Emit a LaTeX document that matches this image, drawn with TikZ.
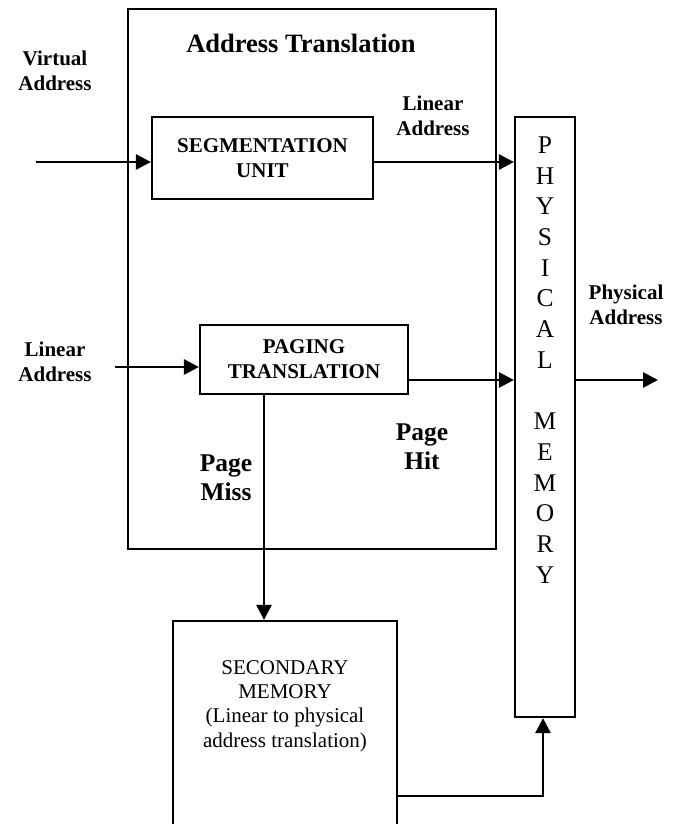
\documentclass[tikz,border=0pt]{standalone}
\usepackage{fontspec}
\setmainfont{Liberation Serif}
\usetikzlibrary{arrows.meta}
\begin{document}
\begin{tikzpicture}[x=1pt,y=-1pt,
  box/.style={draw,line width=2.2pt,inner sep=0pt},
  arr/.style={line width=2.8pt,-{Triangle[length=15pt,width=15pt]}},
  lab/.style={font=\bfseries\fontsize{21}{25.5}\selectfont,align=center,inner sep=0pt},
  boxtxt/.style={font=\bfseries\fontsize{21}{25}\selectfont,align=center,inner sep=0pt},
  big/.style={font=\bfseries\fontsize{25.5}{29}\selectfont,align=center,inner sep=0pt},
  plain/.style={font=\fontsize{21}{24.3}\selectfont,align=center,inner sep=0pt},
  vert/.style={font=\fontsize{25.5}{30.7}\selectfont,align=center,inner sep=0pt}]
\fill[white] (0,0) rectangle (678,824);
\clip (0,0) rectangle (678,824);
% boxes
\node[box,minimum width=368pt,minimum height=540pt] (outer) at (312,279) {};
\node[big,font=\bfseries\fontsize{26.5}{30}\selectfont] (title) at (301,43) {Address Translation};
\node[box,boxtxt,minimum width=221pt,minimum height=82pt] (seg) at (262.5,158) {SEGMENTATION\\UNIT};
\node[box,boxtxt,minimum width=208pt,minimum height=69pt] (pag) at (304,359.5) {PAGING\\TRANSLATION};
\node[box,minimum width=60pt,minimum height=600pt] (phys) at (545,417) {};
\node[vert] (physt) at (545,360) {P\\H\\Y\\S\\I\\C\\A\\L\\\mbox{}\\M\\E\\M\\O\\R\\Y};
\node[box,minimum width=224pt,minimum height=240pt] (sec) at (285,741) {};
\node[plain] (sect) at (285,706) {SECONDARY\\MEMORY\\(Linear to physical\\address translation)};
% labels
\node[lab] (va) at (55,71) {Virtual\\Address};
\node[lab] (la1) at (433,116) {Linear\\Address};
\node[lab] (la2) at (55,362) {Linear\\Address};
\node[lab] (pa) at (626,305) {Physical\\Address};
\node[big] (miss) at (226,478) {Page\\Miss};
\node[big] (hit) at (422,447) {Page\\Hit};
% coordinates
\coordinate (vin) at (36,162);
\coordinate (lin) at (115,367);
\coordinate (ph) at (0,380);
\coordinate (pout) at (658,380);
\coordinate (mx) at (264,0);
\coordinate (by) at (543,796);
% connectors
\draw[arr] (vin) -- (vin -| seg.west);
\draw[arr] (vin -| seg.east) -- (vin -| phys.west);
\draw[arr] (lin) -- (lin -| pag.west);
\draw[arr] (ph -| pag.east) -- (ph -| phys.west);
\draw[arr] (ph -| phys.east) -- (pout);
\draw[arr] (mx |- pag.south) -- (mx |- sec.north);
\draw[arr] (by -| sec.east) -- (by) -- (by |- phys.south);
\end{tikzpicture}
\end{document}
